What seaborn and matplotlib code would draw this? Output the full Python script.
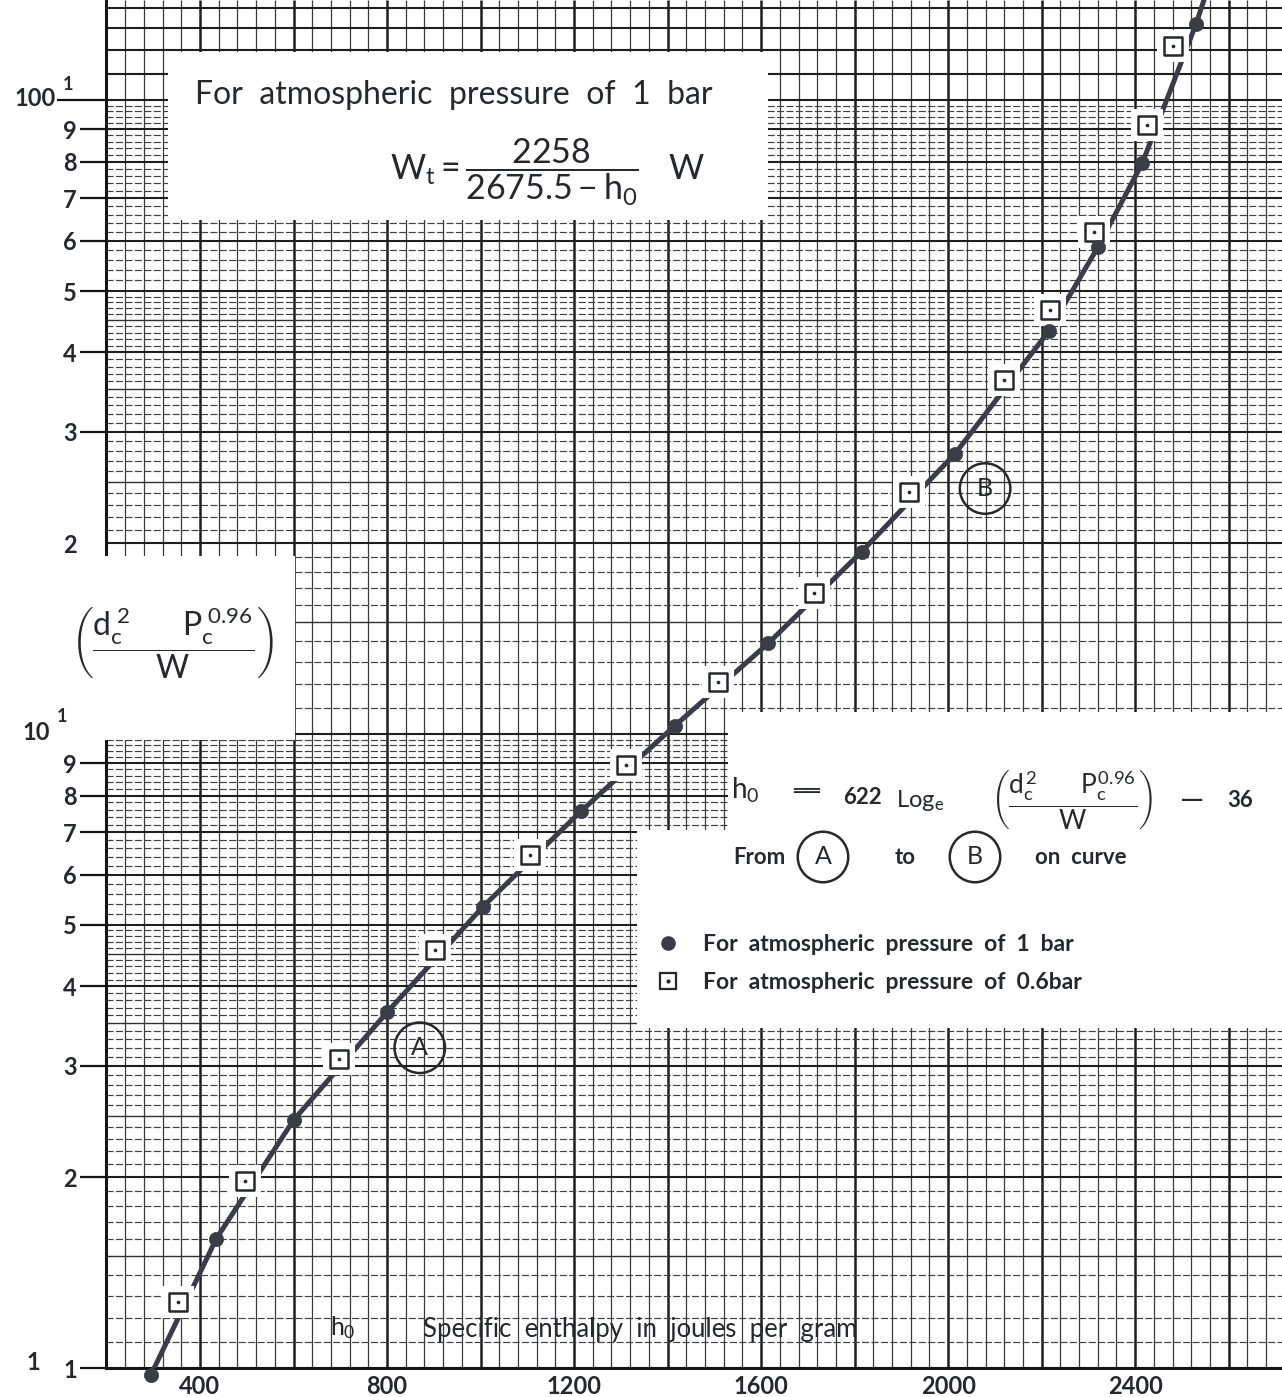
import numpy as np
import matplotlib
matplotlib.use("Agg")
import matplotlib.pyplot as plt
from matplotlib.lines import Line2D
from matplotlib.patches import Rectangle
from matplotlib.legend_handler import HandlerTuple
from matplotlib.ticker import NullLocator
import seaborn as sns

# specific enthalpy h0 (J/g) vs (dc^2 Pc^0.96 / W), atmospheric pressure 1 bar
h_1bar = [295, 435, 600, 800, 1005, 1215, 1415, 1615, 1815, 2015, 2215, 2320, 2415, 2530]
v_1bar = [0.975, 1.60, 2.46, 3.64, 5.34, 7.56, 10.3, 13.9, 19.4, 27.7, 43.2, 58.6, 79.5, 131.8]

# same for atmospheric pressure 0.6 bar
h_06bar = [353, 496, 697, 903, 1106, 1311, 1508, 1713, 1917, 2120, 2218, 2312, 2426, 2481]
v_06bar = [1.27, 1.97, 3.07, 4.56, 6.44, 8.93, 12.1, 16.7, 24.1, 36.2, 46.6, 61.9, 91.3, 121.7]

# drawn curve (runs through the 1 bar points and leaves the top of the sheet)
curve_h = [295, 435, 600, 800, 1005, 1215, 1415, 1615, 1815, 2015, 2215, 2320, 2415, 2530, 2550]
curve_v = [0.975, 1.60, 2.46, 3.64, 5.34, 7.56, 10.3, 13.9, 19.4, 27.7, 43.2, 58.6, 79.5, 131.8, 146]

x_ticks = [400, 800, 1200, 1600, 2000, 2400]
y_ticks = [1, 2, 3, 4, 5, 6, 7, 8, 9, 20, 30, 40, 50, 60, 70, 80, 90, 100]
y_labels = ["1", "2", "3", "4", "5", "6", "7", "8", "9",
            "2", "3", "4", "5", "6", "7", "8", "9", ""]

labels_legend = ["For  atmospheric  pressure  of  1  bar",
                 "For  atmospheric  pressure  of  0.6bar"]

INK = "#26282d"
LINE = "#3a3d46"

sns.set_style("white")
plt.rcParams["font.family"] = ["Lato", "DejaVu Sans"]
plt.rcParams["mathtext.fontset"] = "custom"
plt.rcParams["mathtext.rm"] = "Lato"
plt.rcParams["mathtext.it"] = "Lato"
plt.rcParams["mathtext.bf"] = "Lato:bold"
plt.rcParams["text.color"] = INK

W_PX, H_PX = 1282, 1397


def fxy(px, py):
    # reference pixel position -> figure fraction
    return px / W_PX, 1 - py / H_PX


fig = plt.figure(figsize=(W_PX / 100, H_PX / 100), dpi=100)
ax = fig.add_axes([106 / W_PX, 29 / H_PX, 1 - 106 / W_PX, 1368 / H_PX])
ax.set_yscale("log")
ax.set_xlim(199, 2714)
ax.set_ylim(1, 143.9)

# --- log graph paper ---
x_all = np.arange(240, 2714, 40)
x_heavy = [x for x in x_all if x % 200 == 0]
x_light = [x for x in x_all if x % 200 != 0]
ax.vlines(x_light, 0, 1, transform=ax.get_xaxis_transform(), color="#3a3a3a", lw=0.9, zorder=1)
ax.vlines(x_heavy, 0, 1, transform=ax.get_xaxis_transform(), color="#1e1e1e", lw=1.8, zorder=1)

y_heavy = [m * d for d in (1, 10) for m in range(1, 10)] + [100, 110, 120, 130, 140]
y_half = [m * d for d in (1, 10) for m in (1.5, 2.5, 3.5, 4.5)]
y_dash = []
for d in (1, 10):
    steps = list(np.round(np.arange(1.1, 5.0, 0.1), 2)) + list(np.round(np.arange(5.2, 10.0, 0.2), 2))
    y_dash += [s * d for s in steps if abs(s - round(s)) > 1e-6 and abs(s % 1 - 0.5) > 1e-6]
ax.hlines(y_dash, 0, 1, transform=ax.get_yaxis_transform(), color="#404040", lw=0.85,
          linestyles=(0, (6, 2)), zorder=1)
ax.hlines(y_half, 0, 1, transform=ax.get_yaxis_transform(), color="#303030", lw=1.0, zorder=1)
ax.hlines(y_heavy, 0, 1, transform=ax.get_yaxis_transform(), color="#1e1e1e", lw=1.5, zorder=1)

# left edge of the sheet
ax.axvline(199, color="#151515", lw=2.2, zorder=2, clip_on=False)

# white areas pasted over the paper
def blank(x0, y0, x1, y1, clip=True):
    xa, ya = fxy(x0, y1)
    r = Rectangle((xa, ya), (x1 - x0) / W_PX, (y1 - y0) / H_PX, transform=fig.transFigure,
                  facecolor="white", edgecolor="none", zorder=2.6, clip_on=clip)
    ax.add_patch(r)

blank(168, 52, 768, 220)
blank(0, 556, 295, 740, clip=False)
blank(728, 712, 1282, 832)
blank(637, 830, 1282, 1028)

# --- data ---
sns.lineplot(x=curve_h, y=curve_v, sort=False, estimator=None, color=LINE, lw=3.6,
             ax=ax, zorder=3)
sns.scatterplot(x=h_06bar, y=v_06bar, marker="s", s=500, color="white", linewidth=0,
                ax=ax, zorder=4)
sns.scatterplot(x=h_06bar, y=v_06bar, marker="s", s=170, color="white", edgecolor=INK,
                linewidth=1.8, ax=ax, zorder=5)
sns.scatterplot(x=h_06bar, y=v_06bar, marker="o", s=7, color=INK, linewidth=0, ax=ax, zorder=6)
sns.scatterplot(x=h_1bar, y=v_1bar, marker="o", s=105, color=LINE, edgecolor=LINE,
                linewidth=0.5, ax=ax, zorder=6, clip_on=False)

circ = dict(boxstyle="circle,pad=0.55", fc="none", ec=INK, lw=1.8)
ax.text(870, 3.2, "A", ha="center", va="center", fontsize=18, zorder=7, bbox=circ)
ax.text(2079, 24.4, "B", ha="center", va="center", fontsize=18, zorder=7, bbox=circ)

# --- axes ---
for side in ("top", "right", "left"):
    ax.spines[side].set_visible(False)
ax.spines["bottom"].set_linewidth(2.2)
ax.spines["bottom"].set_color("#151515")

ax.set_xticks(x_ticks, [str(v) for v in x_ticks])
ax.tick_params(axis="x", bottom=False, length=0, pad=5, labelsize=17, labelcolor=INK)
ax.set_yticks(y_ticks, y_labels)
ax.yaxis.set_minor_locator(NullLocator())
ax.tick_params(axis="y", left=True, length=19, width=1.6, pad=2, labelsize=17,
               labelcolor=INK, color="#151515")
ytk = ax.yaxis.get_major_ticks()
ytk[9].tick1line.set_visible(False)
ytk[-1].tick1line.set_markersize(35)
for lab in ax.get_xticklabels() + ax.get_yticklabels():
    lab.set_fontweight("bold")
ax.set_xlabel("")
ax.set_ylabel("")

fig.text(*fxy(56, 99), "100", ha="right", va="center", fontsize=17, weight="bold")
fig.text(*fxy(68, 84), "1", ha="center", va="center", fontsize=13, weight="bold")
fig.text(*fxy(36, 733), "10", ha="center", va="center", fontsize=17, weight="bold")
fig.text(*fxy(62, 717), "1", ha="center", va="center", fontsize=13, weight="bold")
fig.text(*fxy(33, 1362), "1", ha="center", va="center", fontsize=17, weight="bold")

# axis titles drawn on the sheet
fig.text(*fxy(343, 1328), r"$h_0$", ha="center", va="center", fontsize=18, zorder=10)
fig.text(*fxy(423, 1330), "Specific  enthalpy  in  joules  per  gram", ha="left", va="center",
         fontsize=18.5, zorder=10)
fig.text(*fxy(172, 643), r"$\left(\dfrac{d_c^{\,2}\qquad P_c^{\,0.96}}{W}\right)$",
         ha="center", va="center", fontsize=23, zorder=10)

# top box
fig.text(*fxy(195, 95), "For  atmospheric  pressure  of  1  bar", ha="left", va="center",
         fontsize=23, zorder=10)
fig.text(*fxy(548, 172), r"$W_t = \dfrac{2258}{2675.5 - h_0}\quad W$", ha="center",
         va="center", fontsize=24.5, zorder=10)

# lower right box
fig.text(*fxy(745, 790), r"$h_0$", ha="center", va="center", fontsize=20, zorder=10)
fig.text(*fxy(807, 792), "\u2550\u2550", ha="center", va="center", fontsize=16,
         family="DejaVu Sans", zorder=10)
fig.text(*fxy(862, 797), "622", ha="center", va="center", fontsize=16, weight="bold", zorder=10)
fig.text(*fxy(920, 800), r"$\mathrm{Log}_e$", ha="center", va="center", fontsize=17, zorder=10)
fig.text(*fxy(1072, 800), r"$\left(\dfrac{d_c^{2}\qquad P_c^{0.96}}{W}\right)$",
         ha="center", va="center", fontsize=19, zorder=10)
fig.text(*fxy(1192, 800), "\u2014", ha="center", va="center", fontsize=22, zorder=10)
fig.text(*fxy(1240, 800), "36", ha="center", va="center", fontsize=16, weight="bold", zorder=10)

fig.text(*fxy(733, 857), "From", ha="left", va="center", fontsize=16, weight="bold", zorder=10)
fig.text(*fxy(823, 857), "A", ha="center", va="center", fontsize=18, zorder=10,
         bbox=dict(boxstyle="circle,pad=0.55", fc="white", ec=INK, lw=1.8))
fig.text(*fxy(905, 857), "to", ha="center", va="center", fontsize=16, weight="bold", zorder=10)
fig.text(*fxy(975, 857), "B", ha="center", va="center", fontsize=18, zorder=10,
         bbox=dict(boxstyle="circle,pad=0.55", fc="white", ec=INK, lw=1.8))
fig.text(*fxy(1035, 857), "on  curve", ha="left", va="center", fontsize=16, weight="bold", zorder=10)

h_dot = Line2D([], [], marker="o", ls="none", color=LINE, markersize=9.5)
h_sq = Line2D([], [], marker="s", ls="none", mfc="white", mec=INK, mew=1.6, markersize=11.5)
h_sqdot = Line2D([], [], marker="o", ls="none", color=INK, markersize=2)
leg = ax.legend([h_dot, (h_sq, h_sqdot)], labels_legend,
                handler_map={tuple: HandlerTuple(ndivide=1, pad=0)},
                loc="upper left", bbox_to_anchor=fxy(655, 934), bbox_transform=fig.transFigure,
                frameon=False, prop={"size": 16.5, "weight": "bold"}, handlelength=1.1,
                handletextpad=1.0, labelspacing=0.75, borderpad=0, borderaxespad=0)
leg.set_zorder(10)

fig.savefig("out.png", dpi=100)
